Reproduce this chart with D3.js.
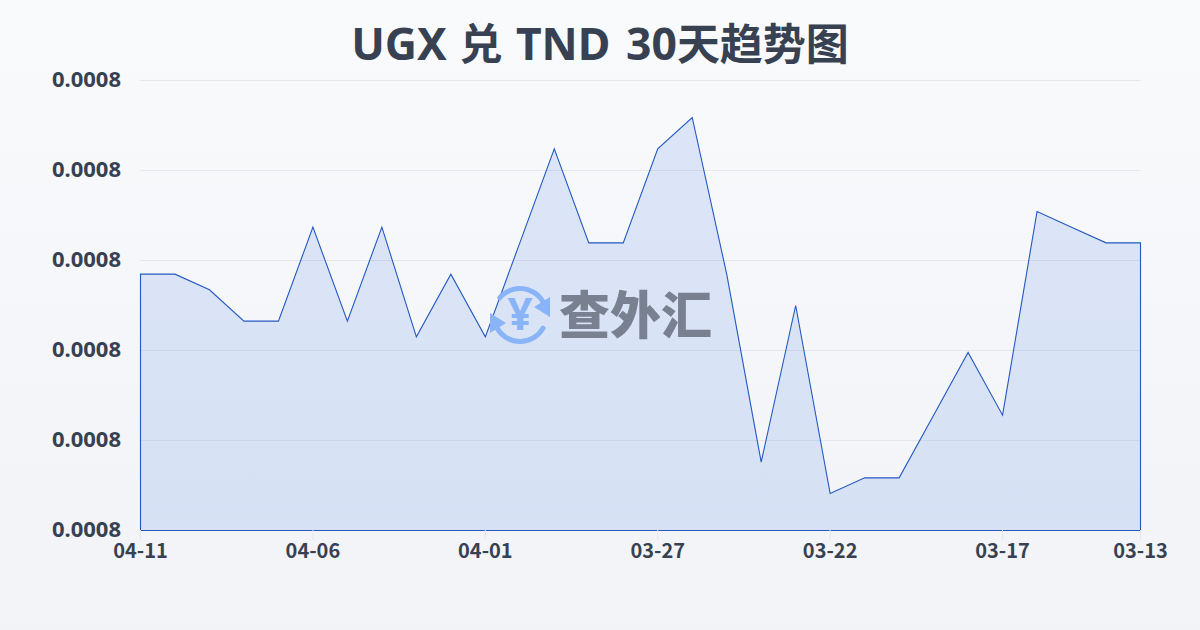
<!DOCTYPE html>
<html>
<head>
<meta charset="utf-8">
<script src="https://cdn.jsdelivr.net/npm/d3@7"></script>
<style>
  html, body { margin: 0; padding: 0; }
  body { width: 1200px; height: 630px; overflow: hidden; }
  svg { display: block; }
  text { font-family: "Noto Sans", "Noto Sans CJK SC", sans-serif; }
</style>
</head>
<body>
<div id="chart"></div>
<script>
// Chart values (newest date on the left)
const titleParts = ["UGX ", "兑", " TND ", "30", "天趋势图"];
const dates = ["04-11","04-10","04-09","04-08","04-07","04-06","04-05","04-04","04-03","04-02",
               "04-01","03-31","03-30","03-29","03-28","03-27","03-26","03-25","03-24","03-23",
               "03-22","03-21","03-20","03-19","03-18","03-17","03-16","03-15","03-14","03-13"];
const rates = [0.000794,0.000794,0.000793,0.000791,0.000791,0.000797,0.000791,0.000797,0.000790,0.000794,
               0.000790,0.000796,0.000802,0.000796,0.000796,0.000802,0.000804,0.000794,0.000782,0.000792,
               0.000780,0.000781,0.000781,0.000785,0.000789,0.000785,0.000798,0.000797,0.000796,0.000796];
const tickDates = ["04-11","04-06","04-01","03-27","03-22","03-17","03-13"];
const yTicks = [0.00077764,0.000783384,0.000789128,0.000794872,0.000800616,0.00080636];

const width = 1200, height = 630;
const margin = {top: 80, right: 60, bottom: 100, left: 140};

const svg = d3.select("#chart").append("svg")
    .attr("width", width)
    .attr("height", height);

const defs = svg.append("defs");

const bg = defs.append("linearGradient").attr("id", "bg")
    .attr("x1", 0).attr("y1", 0).attr("x2", 0).attr("y2", 1);
bg.append("stop").attr("offset", "0%").attr("stop-color", "#f8fafc");
bg.append("stop").attr("offset", "100%").attr("stop-color", "#f1f3f6");

svg.append("rect").attr("width", width).attr("height", height).attr("fill", "url(#bg)");

const x = d3.scalePoint()
    .domain(dates)
    .range([margin.left, width - margin.right]);

const y = d3.scaleLinear()
    .domain([yTicks[0], yTicks[yTicks.length - 1]])
    .range([height - margin.bottom, margin.top]);

// half pixel shift keeps the 1px lines sharp
const plot = svg.append("g").attr("transform", "translate(0.5,0.5)");

// grid lines
plot.append("g")
    .selectAll("line")
    .data(yTicks)
    .join("line")
    .attr("x1", margin.left)
    .attr("x2", width - margin.right)
    .attr("y1", d => y(d))
    .attr("y2", d => y(d))
    .attr("stroke", "#e5e7eb")
    .attr("stroke-width", 1);

// area and line
const area = d3.area()
    .x((d, i) => x(dates[i]))
    .y0(y.range()[0])
    .y1(d => y(d));

plot.append("path")
    .datum(rates)
    .attr("d", area)
    .attr("fill", "#2563eb")
    .attr("fill-opacity", 0.13)
    .attr("stroke", "#2458c0")
    .attr("stroke-width", 1.1);

// axes
const yAxis = d3.axisLeft(y)
    .tickValues(yTicks)
    .tickSize(0)
    .tickPadding(19)
    .tickFormat(d3.format(".4f"));

const yG = svg.append("g")
    .attr("transform", `translate(${margin.left},-1)`)
    .call(yAxis);
yG.select(".domain").remove();
yG.selectAll("text")
    .attr("fill", "#374151")
    .attr("font-size", 22)
    .attr("font-weight", 700);

const xAxis = d3.axisBottom(x)
    .tickValues(tickDates)
    .tickSize(10)
    .tickPadding(4);

const xG = svg.append("g")
    .attr("transform", `translate(0,${height - margin.bottom})`)
    .call(xAxis);
xG.select(".domain").remove();
xG.selectAll("line").attr("stroke", "#e5e7eb");
xG.selectAll("text")
    .attr("fill", "#374151")
    .attr("font-size", 20)
    .attr("font-weight", 700)
    .style("font-family", '"Noto Sans CJK SC"');

// title, latin parts run slightly larger than the CJK ones in the reference
const titleSizes = [44.5, 43, 44.5, 44.5, 43];
const titleGaps = [0, 1, 2, 4, 0];

const title = svg.append("text")
    .attr("x", width / 2)
    .attr("y", 60)
    .attr("text-anchor", "middle")
    .attr("fill", "#374151")
    .attr("font-weight", 700)
    .style("white-space", "pre");

title.selectAll("tspan")
    .data(titleParts)
    .join("tspan")
    .attr("font-size", (d, i) => titleSizes[i])
    .attr("dx", (d, i) => titleGaps[i])
    .text(d => d);

// watermark: yen sign inside two arrows, then the site name
const mark = svg.append("g").attr("transform", "translate(520,315)");
const ring = d3.arc().innerRadius(24).outerRadius(29).cornerRadius(2);

mark.append("path")
    .attr("d", ring({startAngle: -0.95, endAngle: 1.15}))
    .attr("fill", "#8ab4f8");
mark.append("path")
    .attr("d", ring({startAngle: 2.0, endAngle: 4.3}))
    .attr("fill", "#8ab4f8");
mark.append("path")
    .attr("d", d3.line()([[30, -18], [30, 2], [14, -8]]))
    .attr("fill", "#8ab4f8");
mark.append("path")
    .attr("d", d3.line()([[-30, 18], [-30, -2], [-14, 8]]))
    .attr("fill", "#8ab4f8");
mark.append("text")
    .attr("x", 0)
    .attr("y", 15)
    .attr("text-anchor", "middle")
    .attr("fill", "#8ab4f8")
    .attr("font-size", 44)
    .attr("font-weight", 700)
    .text("¥");

svg.append("text")
    .attr("x", 559)
    .attr("y", 334)
    .attr("fill", "#79808f")
    .attr("font-size", 51)
    .attr("font-weight", 900)
    .style("font-family", '"Noto Sans CJK SC"')
    .text("查外汇");
</script>
</body>
</html>
